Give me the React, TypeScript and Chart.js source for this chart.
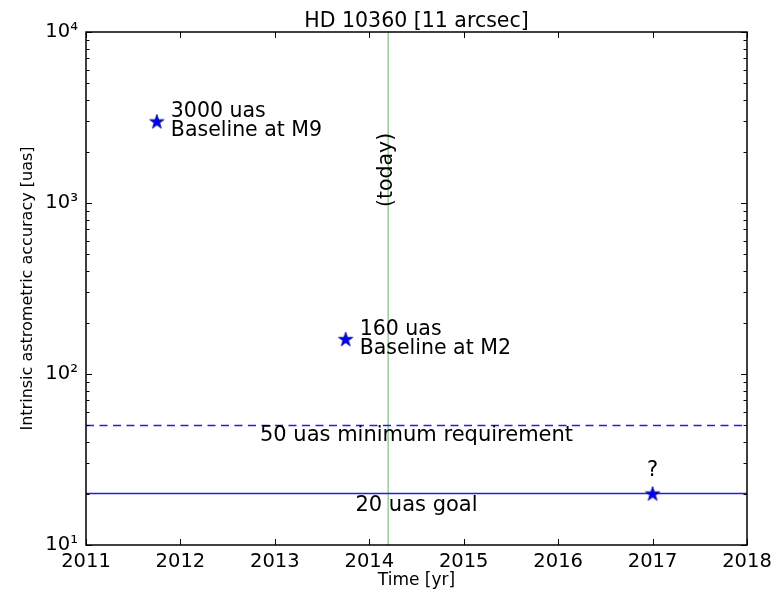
import React, { useEffect, useRef } from "react";
import { Chart, registerables } from "chart.js";

Chart.register(...registerables);

// ---------- data ----------
const chartTitle = "HD 10360 [11 arcsec]";
const xAxisLabel = "Time [yr]";
const yAxisLabel = "Intrinsic astrometric accuracy [uas]";

const xMin = 2011;
const xMax = 2018;
const yMin = 10;
const yMax = 10000;

const starYears = [2011.75, 2013.75, 2017];
const starValues = [3000, 160, 20];

const todayYear = 2014.2;
const minRequirement = 50;
const goalValue = 20;

const noteLines = [
  ["3000 uas", "Baseline at M9"],
  ["160 uas", "Baseline at M2"],
];
const noteYears = [2011.75, 2013.75];
const noteValues = [3000, 160];

const minRequirementText = "50 uas minimum requirement";
const goalText = "20 uas goal";
const questionText = "?";
const todayText = "(today)";
const textCenterYear = 2014.5;
const todayTextValue = 1560;

const superscripts: Record<string, string> = {
  "0": "⁰", "1": "¹", "2": "²", "3": "³", "4": "⁴", "5": "⁵", "6": "⁶", "7": "⁷", "8": "⁸", "9": "⁹",
};

// ---------- helpers ----------
const FONT = '"DejaVu Sans", "Liberation Sans", sans-serif';

function makeStar(): HTMLCanvasElement {
  const c = document.createElement("canvas");
  c.width = 20;
  c.height = 20;
  const g = c.getContext("2d")!;
  g.beginPath();
  for (let i = 0; i < 10; i++) {
    const r = i % 2 === 0 ? 7.6 : 2.9;
    const a = -Math.PI / 2 + (i * Math.PI) / 5;
    const px = 10 + r * Math.cos(a);
    const py = 10.6 + r * Math.sin(a);
    if (i === 0) g.moveTo(px, py);
    else g.lineTo(px, py);
  }
  g.closePath();
  g.fillStyle = "#0000ff";
  g.fill();
  g.strokeStyle = "#00007a";
  g.lineWidth = 0.8;
  g.stroke();
  return c;
}

const framePlugin = {
  id: "mplFrame",
  afterDatasetsDraw(chart: any) {
    const { ctx, chartArea } = chart;
    const xs = chart.scales.x;
    const ys = chart.scales.y;
    const { left, right, top, bottom } = chartArea;
    ctx.save();

    // annotations
    ctx.fillStyle = "#000";
    ctx.font = `20.5px ${FONT}`;
    ctx.textAlign = "left";
    ctx.textBaseline = "alphabetic";
    noteLines.forEach((lines, i) => {
      const px = xs.getPixelForValue(noteYears[i]);
      const py = ys.getPixelForValue(noteValues[i]);
      ctx.fillText(lines[0], px + 14, py - 4.5);
      ctx.fillText(lines[1], px + 14, py + 14.5);
    });
    ctx.font = `21px ${FONT}`;
    ctx.textAlign = "center";
    ctx.fillText(
      minRequirementText,
      xs.getPixelForValue(textCenterYear),
      ys.getPixelForValue(minRequirement) + 16
    );
    ctx.fillText(
      goalText,
      xs.getPixelForValue(textCenterYear),
      ys.getPixelForValue(goalValue) + 17
    );
    ctx.fillText(
      questionText,
      xs.getPixelForValue(starYears[2]),
      ys.getPixelForValue(starValues[2]) - 17.5
    );
    ctx.save();
    ctx.translate(xs.getPixelForValue(todayYear) - 1, ys.getPixelForValue(todayTextValue));
    ctx.rotate(-Math.PI / 2);
    ctx.textBaseline = "middle";
    ctx.font = `20.5px ${FONT}`;
    ctx.fillText(todayText, 0, 0);
    ctx.restore();

    // title
    ctx.font = `20.5px ${FONT}`;
    ctx.textAlign = "center";
    ctx.textBaseline = "alphabetic";
    ctx.fillText(chartTitle, (left + right) / 2, 27);

    // frame
    ctx.strokeStyle = "#000";
    ctx.lineWidth = 1.5;
    ctx.strokeRect(left, top, right - left, bottom - top);

    // ticks (inward, all four sides)
    ctx.lineWidth = 1;
    ctx.beginPath();
    for (let yr = xMin; yr <= xMax; yr++) {
      const px = Math.round(xs.getPixelForValue(yr)) + 0.5;
      ctx.moveTo(px, bottom);
      ctx.lineTo(px, bottom - 6);
      ctx.moveTo(px, top);
      ctx.lineTo(px, top + 6);
    }
    for (let d = yMin; d <= yMax; d *= 10) {
      for (let m = 1; m <= 9; m++) {
        const v = d * m;
        if (v > yMax) break;
        const len = m === 1 ? 6 : 3.5;
        const py = Math.round(ys.getPixelForValue(v)) + 0.5;
        ctx.moveTo(left, py);
        ctx.lineTo(left + len, py);
        ctx.moveTo(right, py);
        ctx.lineTo(right - len, py);
      }
    }
    ctx.stroke();
    ctx.restore();
  },
};

export default function App() {
  const canvasRef = useRef<HTMLCanvasElement | null>(null);

  useEffect(() => {
    const canvas = canvasRef.current;
    if (!canvas) return;
    const star = makeStar();

    const chart = new Chart(canvas, {
      type: "line",
      data: {
        datasets: [
          {
            label: "stars",
            data: starYears.map((x, i) => ({ x, y: starValues[i] })),
            showLine: false,
            pointStyle: star as any,
            pointRadius: 8,
            borderColor: "#0000ff",
            backgroundColor: "#0000ff",
          },
          {
            label: "goal",
            data: [
              { x: xMin, y: goalValue },
              { x: xMax, y: goalValue },
            ],
            borderColor: "#1f1fe6",
            borderWidth: 1.5,
            pointRadius: 0,
          },
          {
            label: "min",
            data: [
              { x: xMin, y: minRequirement },
              { x: xMax, y: minRequirement },
            ],
            borderColor: "#1f1fe6",
            borderWidth: 1.5,
            borderDash: [8, 5.5],
            pointRadius: 0,
          },
          {
            label: "today",
            data: [
              { x: todayYear, y: yMin },
              { x: todayYear, y: yMax },
            ],
            borderColor: "rgba(0,128,0,0.4)",
            borderWidth: 1.5,
            pointRadius: 0,
          },
        ],
      },
      options: {
        animation: false,
        responsive: false,
        maintainAspectRatio: false,
        events: [],
        layout: { padding: { left: 0, top: 32, right: 36, bottom: 0 } },
        plugins: {
          legend: { display: false },
          tooltip: { enabled: false },
          title: { display: false },
        },
        scales: {
          x: {
            type: "linear",
            min: xMin,
            max: xMax,
            afterFit: (s: any) => {
              s.height = 49;
            },
            grid: { display: false, drawTicks: false },
            border: { display: false },
            ticks: {
              stepSize: 1,
              autoSkip: false,
              maxRotation: 0,
              padding: 5,
              color: "#000",
              font: { family: FONT, size: 19.5 },
              callback: (v: any) => String(v),
            },
            title: {
              display: true,
              text: xAxisLabel,
              color: "#000",
              font: { family: FONT, size: 17 },
              padding: { top: 0, bottom: 3 },
            },
          },
          y: {
            type: "logarithmic",
            min: yMin,
            max: yMax,
            afterFit: (s: any) => {
              s.width = 86;
            },
            grid: { display: false, drawTicks: false },
            border: { display: false },
            ticks: {
              autoSkip: false,
              padding: 8,
              color: "#000",
              font: { family: FONT, size: 19.5 },
              callback: (v: any) => {
                const val = Number(v);
                const e = Math.round(Math.log10(val));
                if (Math.abs(val - Math.pow(10, e)) > 1e-6 * val) return "";
                return "10" + String(e).split("").map((c) => superscripts[c]).join("");
              },
            },
            title: {
              display: true,
              text: yAxisLabel,
              color: "#000",
              font: { family: FONT, size: 16 },
              padding: { top: 18, bottom: 0 },
            },
          },
        },
      },
      plugins: [framePlugin],
    } as any);

    return () => chart.destroy();
  }, []);

  return (
    <div style={{ position: "absolute", left: 0, top: 0, width: 783, height: 594, background: "#fff" }}>
      <canvas ref={canvasRef} width={783} height={594} style={{ display: "block" }} />
    </div>
  );
}
